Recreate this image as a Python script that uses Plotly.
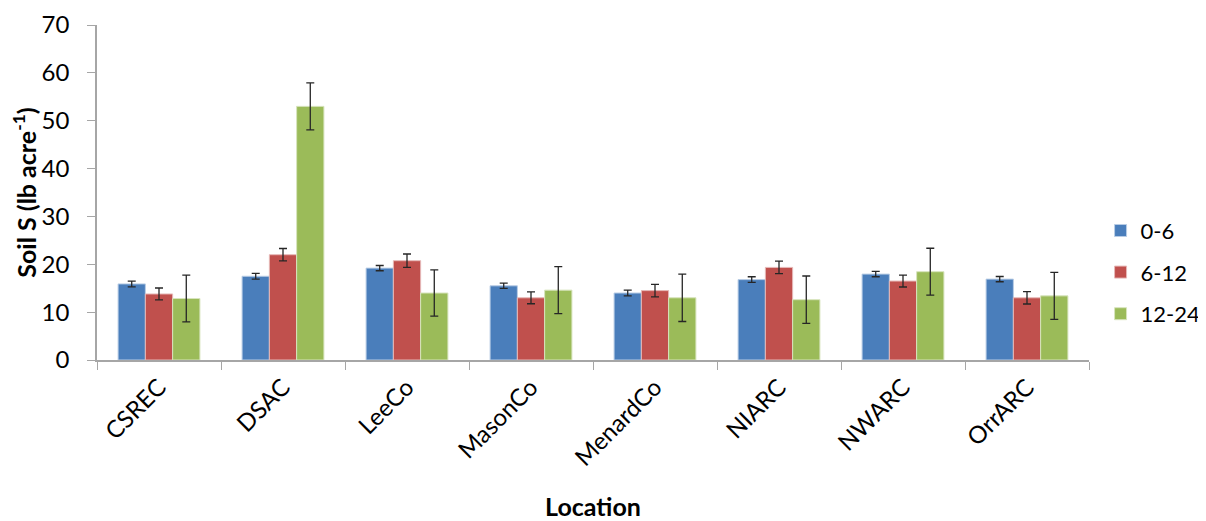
import plotly.graph_objects as go

locations = ["CSREC", "DSAC", "LeeCo", "MasonCo", "MenardCo", "NIARC", "NWARC", "OrrARC"]
depth_0_6 = [15.9, 17.5, 19.2, 15.5, 14.0, 16.8, 17.95, 16.9]
err_0_6 = [0.6, 0.6, 0.55, 0.55, 0.6, 0.6, 0.55, 0.55]
depth_6_12 = [13.8, 22.0, 20.75, 13.0, 14.5, 19.35, 16.5, 13.0]
err_6_12 = [1.25, 1.3, 1.4, 1.25, 1.3, 1.3, 1.25, 1.3]
depth_12_24 = [12.85, 53.0, 14.0, 14.6, 13.0, 12.6, 18.45, 13.4]
err_12_24 = [4.9, 4.9, 4.85, 4.9, 4.95, 4.95, 4.9, 4.9]
y_ticks = [0, 10, 20, 30, 40, 50, 60, 70]

series = [
    ("0-6", depth_0_6, err_0_6, "#4A7EBB", "#B9CDE5"),
    ("6-12", depth_6_12, err_6_12, "#C0504D", "#E6B9B8"),
    ("12-24", depth_12_24, err_12_24, "#9BBB59", "#D7E4BD"),
]

FONT = "Lato"
fig = go.Figure()
for name, vals, errs, col, edge in series:
    fig.add_trace(go.Bar(
        x=locations, y=vals, name=name, legendgroup=name,
        marker=dict(color=col, line=dict(color=edge, width=1)),
        error_y=dict(type="data", array=errs, visible=True,
                     color="#262626", thickness=1.3, width=4),
    ))

# the page body has an 8px margin, so the figure is sized/offset to compensate
fig.update_layout(
    width=1198, height=513,
    paper_bgcolor="white", plot_bgcolor="white",
    barmode="group", bargap=0.34, bargroupgap=0,
    margin=dict(l=89, r=117, t=17, b=161, autoexpand=False),
    font=dict(family=FONT, size=22, color="black"),
    legend=dict(xref="container", yref="container", x=0.912, y=0.485,
                xanchor="left", yanchor="middle", tracegroupgap=10,
                font=dict(family=FONT, size=22), bgcolor="rgba(0,0,0,0)"),
    xaxis=dict(
        title=dict(text="<b>Location</b>", font=dict(family=FONT, size=25), standoff=30),
        automargin=False,
        showline=True, linecolor="#A6A6A6", linewidth=1.5,
        ticks="outside", tickson="boundaries", ticklen=8, tickcolor="#A6A6A6",
        tickangle=-45, tickfont=dict(family=FONT, size=24), ticklabelstandoff=2,
        showgrid=False,
    ),
    yaxis=dict(
        title=dict(text="<b>Soil S (lb acre<sup>-1</sup>)</b>", font=dict(family=FONT, size=25), standoff=5),
        automargin=False,
        range=[0, 70], tickvals=y_ticks,
        showline=True, linecolor="#A6A6A6", linewidth=1.5,
        ticks="outside", ticklen=8, tickcolor="#A6A6A6",
        tickfont=dict(family=FONT, size=24), ticklabelstandoff=13,
        showgrid=False, zeroline=False,
    ),
)

fig.write_html("out.html")
